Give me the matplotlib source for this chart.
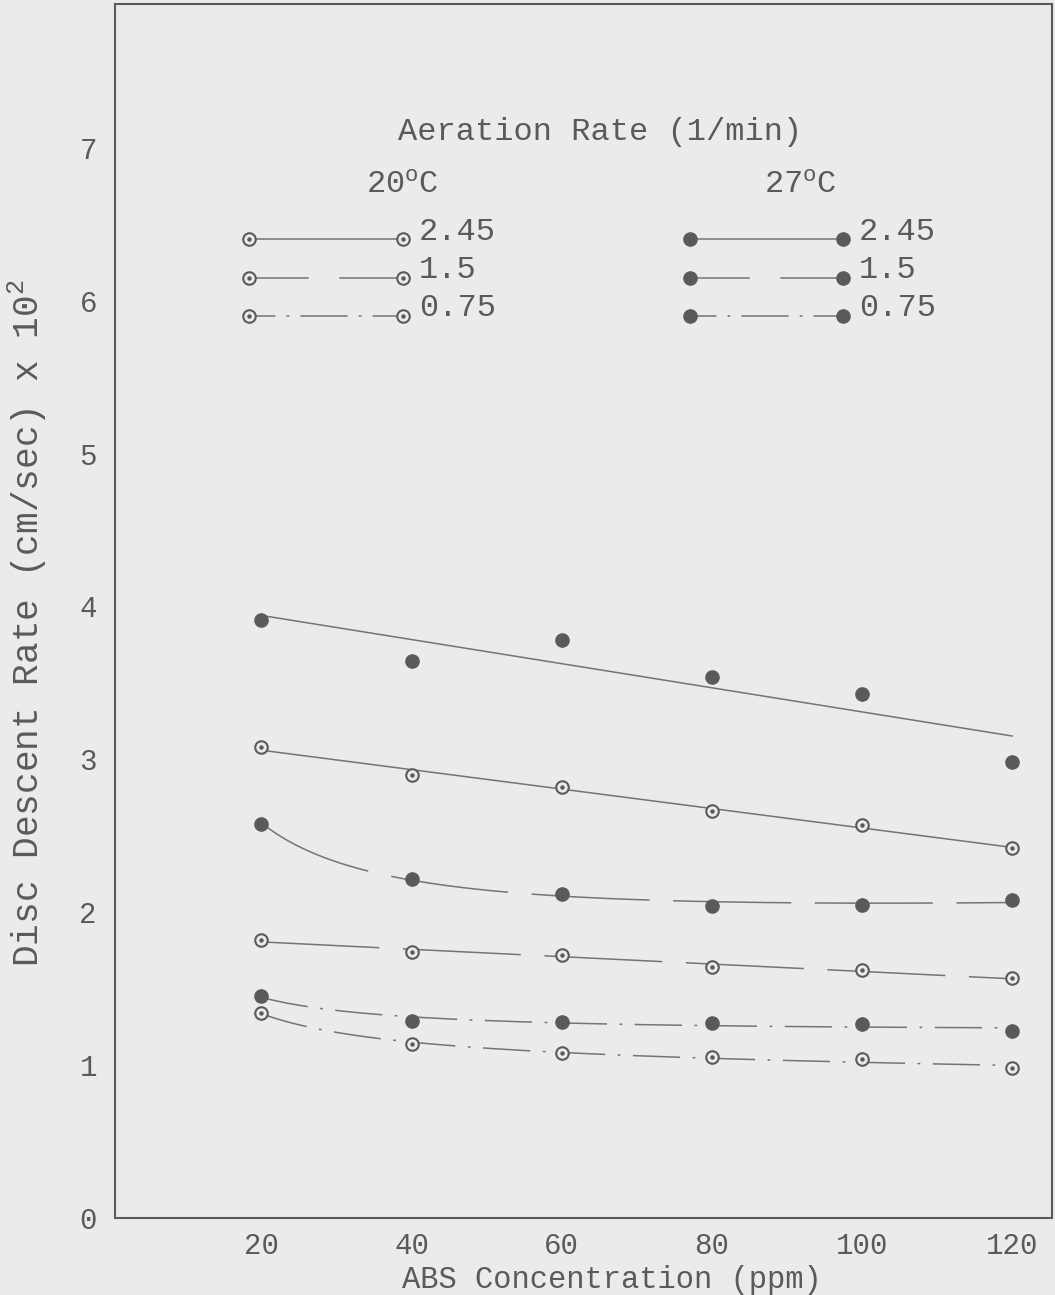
import numpy as np
import matplotlib.pyplot as plt

plt.rcParams["font.family"] = ["Liberation Mono", "DejaVu Sans Mono"]
plt.rcParams["mathtext.fontset"] = "custom"
plt.rcParams["mathtext.rm"] = "Liberation Mono"
plt.rcParams["mathtext.default"] = "regular"
plt.rcParams["lines.scale_dashes"] = False

PAPER = "#ebebeb"
INK = "#5a5a5a"
LINE = "#747474"

# ABS concentration (ppm) and disc descent rate (cm/sec x 10^2)
abs_ppm = np.array([20, 40, 60, 80, 100, 120])
rate_245_20c = np.array([3.08, 2.90, 2.82, 2.66, 2.57, 2.42])
rate_150_20c = np.array([1.82, 1.74, 1.72, 1.64, 1.62, 1.57])
rate_075_20c = np.array([1.34, 1.14, 1.08, 1.05, 1.04, 0.98])
rate_245_27c = np.array([3.91, 3.64, 3.78, 3.54, 3.43, 2.98])
rate_150_27c = np.array([2.58, 2.22, 2.12, 2.04, 2.05, 2.08])
rate_075_27c = np.array([1.45, 1.29, 1.28, 1.275, 1.27, 1.22])
aeration_labels = ["2.45", "1.5", "0.75"]

DASHED = (0, (85, 17))
DASHDOT = (0, (34, 9, 2, 9))
styles = {"2.45": "-", "1.5": DASHED, "0.75": DASHDOT}
legend_styles = {"2.45": "-", "1.5": (0, (43, 22)), "0.75": (15, (34, 8, 2, 8))}

# (values, aeration, filled marker?, fit kind)
series = [
    (rate_245_27c, "2.45", True, "line"),
    (rate_245_20c, "2.45", False, "line"),
    (rate_150_27c, "1.5", True, "curve"),
    (rate_150_20c, "1.5", False, "line"),
    (rate_075_27c, "0.75", True, "curve"),
    (rate_075_20c, "0.75", False, "curve"),
]


def fitted(x, y, kind, xs):
    if kind == "line":
        return np.polyval(np.polyfit(x, y, 1), xs)
    A = np.column_stack([np.ones_like(x, float), 1.0 / x, x])
    coef = np.linalg.lstsq(A, y, rcond=None)[0]
    return coef[0] + coef[1] / xs + coef[2] * xs


def draw_markers(x, y, filled):
    if filled:
        ax.plot(x, y, ls="none", marker="o", ms=9.5, color=INK, zorder=4)
    else:
        ax.plot(x, y, ls="none", marker="o", ms=9, mfc=PAPER, mec=INK,
                mew=1.5, zorder=4)
        ax.plot(x, y, ls="none", marker="o", ms=2.2, color=INK, zorder=5)


fig = plt.figure(figsize=(10.55, 12.95), dpi=100, facecolor=PAPER)
ax = fig.add_axes([115 / 1055, 1 - 1218 / 1295, 937 / 1055, 1214 / 1295])
ax.set_facecolor(PAPER)

xs = np.linspace(abs_ppm[0], abs_ppm[-1], 200)
for y, aer, filled, kind in series:
    ax.plot(xs, fitted(abs_ppm, y, kind, xs), ls=styles[aer], color=LINE,
            lw=1.1, zorder=2)
    draw_markers(abs_ppm, y, filled)

# hand-drawn style key
for col, (x0, x1, filled) in enumerate([(18.3, 38.8, False), (77.1, 97.4, True)]):
    for i, aer in enumerate(aeration_labels):
        yk = 6.40 - 0.25 * i
        ax.plot([x0, x1], [yk, yk], ls=legend_styles[aer], color=LINE, lw=1.1,
                zorder=2)
        draw_markers(np.array([x0, x1]), np.array([yk, yk]), filled)
        ax.text(x1 + 2.2, yk + 0.05, aer, fontsize=23, color=INK,
                ha="left", va="center")

ax.text(65.1, 7.10, "Aeration Rate (1/min)", fontsize=23, color=INK,
        ha="center", va="center")
ax.text(38.8, 6.76, "20$^{o}$C", fontsize=23, color=INK, ha="center", va="center")
ax.text(91.8, 6.76, "27$^{o}$C", fontsize=23, color=INK, ha="center", va="center")

ax.set_xlim(0.5, 125.3)
ax.set_ylim(0, 7.94)
ax.set_xticks(abs_ppm)
ax.set_yticks(range(8))
ax.tick_params(axis="both", length=0, colors=INK)
ax.tick_params(axis="x", labelsize=21, pad=10)
ax.tick_params(axis="y", labelsize=21, pad=13)
for sp in ax.spines.values():
    sp.set_color(INK)
    sp.set_linewidth(1.5)

ax.set_xlabel("ABS Concentration (ppm)", fontsize=22, color=INK)
ax.xaxis.set_label_coords(0.53, -0.039)
ax.set_ylabel("Disc Descent Rate (cm/sec) x 10$^2$", fontsize=26, color=INK,
              va="center")
ax.yaxis.set_label_coords(-0.093, 0.49)

fig.savefig("out.png", dpi=100, facecolor=PAPER)
